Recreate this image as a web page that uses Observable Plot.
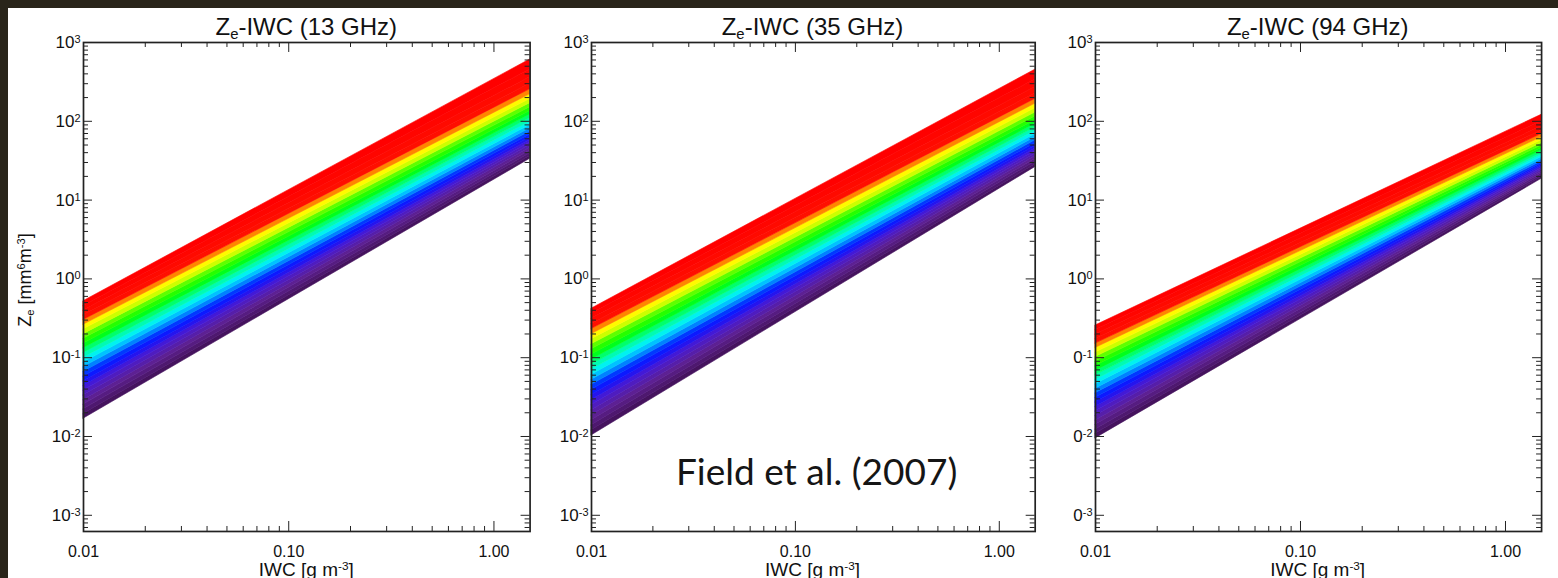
<!DOCTYPE html>
<html><head><meta charset="utf-8">
<script src="https://cdn.jsdelivr.net/npm/d3@7"></script>
<script src="https://cdn.jsdelivr.net/npm/@observablehq/plot@0.6"></script>
<style>
html,body{margin:0;padding:0}
body{width:1558px;height:578px;background:#29251a;position:relative;overflow:hidden;font-family:"Liberation Sans",Arial,sans-serif;color:#111}
#sheet{position:absolute;left:8px;top:8px;right:0;bottom:0;background:#fff}
.abs{position:absolute}
.title{font-size:24px;line-height:24px;white-space:nowrap;transform:translateX(-50%)}
.xlab{font-size:19px;line-height:14px;white-space:nowrap;transform:translateX(-50%)}
.sub{font-size:0.62em;position:relative;top:0.28em}
.sup{font-size:0.62em;position:relative;top:-0.5em}
.ylab{font-size:18px;line-height:18px;white-space:nowrap;transform:translate(-50%,-50%) rotate(-90deg)}
.note{font-family:Lato,"Open Sans",sans-serif;font-size:37px;line-height:37px;white-space:nowrap;color:#151515}
svg{background:transparent!important}
</style>
</head><body>
<div id="sheet"></div>
<div id="p1" class="abs" style="left:13px;top:0"></div>
<div id="p2" class="abs" style="left:520.6px;top:0"></div>
<div id="p3" class="abs" style="left:1024.6px;top:0"></div>

<div class="abs title" style="left:306.3px;top:14.7px">Z<span class="sub">e</span>-IWC (13 GHz)</div>
<div class="abs title" style="left:812.5px;top:14.7px">Z<span class="sub">e</span>-IWC (35 GHz)</div>
<div class="abs title" style="left:1317.7px;top:14.7px">Z<span class="sub">e</span>-IWC (94 GHz)</div>
<div class="abs xlab" style="left:306.3px;top:562.5px">IWC [g m<span class="sup">-3</span>]</div>
<div class="abs xlab" style="left:812.5px;top:562.5px">IWC [g m<span class="sup">-3</span>]</div>
<div class="abs xlab" style="left:1317.7px;top:562.5px">IWC [g m<span class="sup">-3</span>]</div>
<div class="abs ylab" style="left:26px;top:280px">Z<span class="sub">e</span> [mm<span class="sup">6</span>m<span class="sup">-3</span>]</div>
<div class="abs note" style="left:676px;top:452px">Field et al. (2007)</div>

<script>
// ---- data ----
const iwcExtent = [0.01, 1.5];           // x range of each line (g m^-3)
const zeAxisRange = [0.000623, 1000];     // y axis range (mm^6 m^-3)

// Ze at IWC = 0.01 (left end) and IWC = 1.5 (right end), bottom line (purple) to top line (red)
const ze13Left  = [0.0168, 0.0193, 0.0221, 0.0254, 0.0291, 0.0334, 0.0383, 0.0439, 0.0504, 0.0578, 0.0663, 0.0761, 0.0873, 0.100, 0.115, 0.132, 0.151, 0.174, 0.199, 0.229, 0.262, 0.301, 0.345, 0.396, 0.454, 0.521];
const ze13Right = [33.4, 36.3, 39.3, 42.6, 46.1, 49.9, 53.8, 58.0, 62.7, 68.0, 74.2, 81.4, 89.6, 98.9, 110, 122, 135, 151, 170, 192, 220, 255, 299, 361, 455, 608];
const ze35Left  = [0.0103, 0.0120, 0.0139, 0.0161, 0.0186, 0.0216, 0.0251, 0.0291, 0.0337, 0.0391, 0.0453, 0.0525, 0.0609, 0.0707, 0.0819, 0.0950, 0.110, 0.128, 0.148, 0.172, 0.199, 0.231, 0.268, 0.311, 0.360, 0.418];
const ze35Right = [26.2, 28.4, 30.7, 33.3, 35.9, 38.8, 41.8, 45.0, 48.6, 52.6, 57.3, 62.7, 68.9, 75.9, 83.8, 92.9, 103, 115, 129, 146, 167, 192, 225, 270, 339, 451];
const ze94Left  = [0.00946, 0.0108, 0.0123, 0.0141, 0.0160, 0.0183, 0.0209, 0.0238, 0.0272, 0.0310, 0.0354, 0.0404, 0.0461, 0.0526, 0.0601, 0.0685, 0.0782, 0.0892, 0.102, 0.116, 0.133, 0.151, 0.173, 0.197, 0.225, 0.256];
const ze94Right = [18.6, 19.6, 20.7, 21.8, 22.9, 24.1, 25.3, 26.6, 27.9, 29.4, 31.1, 33.1, 35.2, 37.5, 40.0, 42.8, 45.9, 49.2, 53.1, 57.5, 62.8, 68.9, 76.4, 86.3, 100, 121];

const xTickValues = [0.01, 0.1, 1];
const xTickLabels = ["0.01", "0.10", "1.00"];
const yTickValues = [0.001, 0.01, 0.1, 1, 10, 100, 1000];
const yTickLabels = ["10^-3", "10^-2", "10^-1", "10^0", "10^1", "10^2", "10^3"];
// the third panel's labels are cropped on the left in the reference
const yTickLabels94 = ["0^-3", "0^-2", "0^-1", "10^0", "10^1", "10^2", "10^3"];

// ---- style ----
const rainbowPos = [0, 0.12, 0.24, 0.32, 0.37, 0.43, 0.49, 0.56, 0.64, 0.71, 0.75, 0.79, 0.83, 0.87, 1];
const rainbowCol = ["#45135e", "#5e2090", "#4a1ad0", "#1010ff", "#0030ff", "#0099ff", "#00f0ff", "#00ff99", "#00ff00", "#60ff00", "#ccff00", "#ffff00", "#ff9000", "#ff1000", "#ff0000"];
const rainbow = d3.scaleLinear().domain(rainbowPos).range(rainbowCol).interpolate(d3.interpolateRgb).clamp(true);
const axisColor = "#222";

function minorTicks(lo, hi) {
  const out = [];
  for (let k = -5; k <= 3; k++) for (let m = 2; m <= 9; m++) {
    const v = m * Math.pow(10, k);
    if (v > lo * 1.0001 && v < hi * 0.9999) out.push(v);
  }
  return out;
}
const xMinor = minorTicks(iwcExtent[0], iwcExtent[1]);
const yMinor = minorTicks(zeAxisRange[0], zeAxisRange[1]);
const xLabelMap = new Map(xTickValues.map((v, i) => [v, xTickLabels[i]]));

function bands(L, R) {
  const rows = [];
  for (let i = 0; i < L.length - 1; i++) {
    const c = rainbow(i / (L.length - 2));
    rows.push({band: i, c, x: iwcExtent[0], lo: L[i], hi: L[i + 1]});
    rows.push({band: i, c, x: iwcExtent[1], lo: R[i], hi: R[i + 1]});
  }
  return rows;
}

function panel(L, R, fw, yLabels) {
  const mL = 70, mR = 12, mT = 42, mB = 47, H = 578;
  const fh = H - mT - mB;
  const yLabelMap = new Map(yTickValues.map((v, i) => [v, yLabels[i]]));
  const plot = Plot.plot({
    width: mL + fw + mR, height: H,
    marginLeft: mL, marginRight: mR, marginTop: mT, marginBottom: mB,
    style: {background: "transparent", fontFamily: "'Liberation Sans', Arial, sans-serif", fontSize: "16px", color: "#111", overflow: "visible"},
    x: {type: "log", domain: iwcExtent},
    y: {type: "log", domain: zeAxisRange},
    marks: [
      Plot.areaY(bands(L, R), {x: "x", y1: "lo", y2: "hi", z: "band", fill: "c", stroke: "c", strokeWidth: 0.6}),
      // inward ticks on all four sides
      Plot.tickX(xMinor, {x: d => d, insetTop: fh - 5, stroke: axisColor}),
      Plot.tickX(xMinor, {x: d => d, insetBottom: fh - 5, stroke: axisColor}),
      Plot.tickX(xTickValues, {x: d => d, insetTop: fh - 10, stroke: axisColor}),
      Plot.tickX(xTickValues, {x: d => d, insetBottom: fh - 10, stroke: axisColor}),
      Plot.tickY(yMinor, {y: d => d, insetRight: fw - 5, stroke: axisColor}),
      Plot.tickY(yMinor, {y: d => d, insetLeft: fw - 5, stroke: axisColor}),
      Plot.tickY(yTickValues, {y: d => d, insetRight: fw - 9, stroke: axisColor}),
      Plot.tickY(yTickValues, {y: d => d, insetLeft: fw - 9, stroke: axisColor}),
      Plot.axisX(xTickValues, {tickSize: 0, tickPadding: 14, fontSize: 16, tickFormat: d => xLabelMap.get(d), label: null}),
      Plot.axisY(yTickValues, {tickSize: 0, tickPadding: 3, fontSize: 17, tickFormat: d => yLabelMap.get(d), label: null}),
      Plot.frame({stroke: axisColor, strokeWidth: 1.7})
    ]
  });
  plot.querySelectorAll("text").forEach(t => {
    const s = t.textContent;
    if (s.includes("^")) {
      const [base, exp] = s.split("^");
      t.textContent = base;
      t.setAttribute("font-size", "17");
      t.style.fontSize = "17px";
      const ts = document.createElementNS("http://www.w3.org/2000/svg", "tspan");
      ts.setAttribute("dy", "-0.45em");
      ts.style.fontSize = "11px";
      ts.textContent = exp;
      t.appendChild(ts);
    } else if (xTickLabels.includes(s)) {
      t.setAttribute("font-size", "16");
      t.style.fontSize = "16px";
    }
  });
  return plot;
}

document.getElementById("p1").appendChild(panel(ze13Left, ze13Right, 446.6, yTickLabels));
document.getElementById("p2").appendChild(panel(ze35Left, ze35Right, 443.7, yTickLabels));
document.getElementById("p3").appendChild(panel(ze94Left, ze94Right, 446.1, yTickLabels94));
</script>
</body></html>
